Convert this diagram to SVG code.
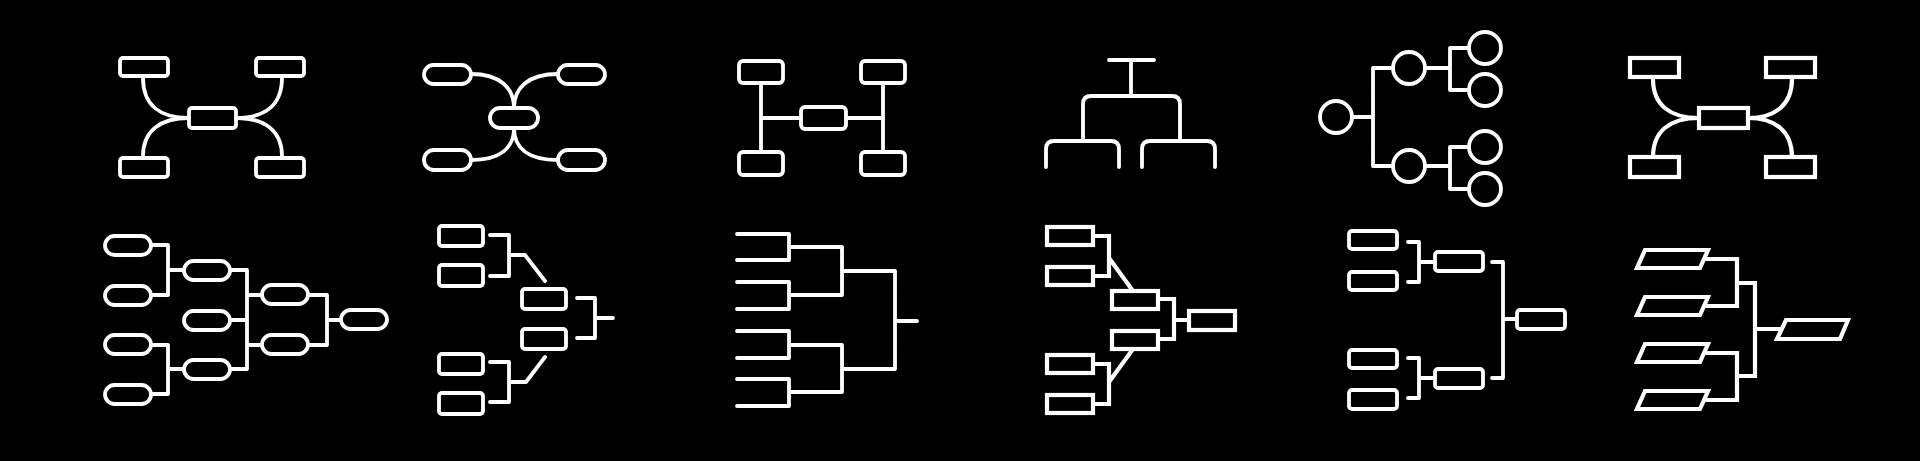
<svg xmlns="http://www.w3.org/2000/svg" width="1920" height="461" viewBox="0 0 1920 461">
<style>
.r{fill:none;stroke:#fff;stroke-width:3.8;stroke-linecap:round;stroke-linejoin:round}
.s{fill:none;stroke:#fff;stroke-width:4.2;stroke-linecap:butt;stroke-linejoin:miter}
</style>
<rect width="1920" height="461" fill="#000"/>
<g id="icon1-mindmap">
<g class="r"><rect x="120" y="58" width="48" height="18" rx="3"/><rect x="256" y="58" width="48" height="18" rx="3"/><rect x="189" y="108" width="47" height="20" rx="3"/><rect x="120" y="158" width="48" height="19" rx="3"/><rect x="256" y="158" width="48" height="19" rx="3"/></g>
</g>
<g id="icon2-pills">
<g class="r"><rect x="424" y="65" width="47" height="19" rx="9.5"/><rect x="558" y="65" width="47" height="19" rx="9.5"/><rect x="490" y="108" width="48" height="20" rx="10"/><rect x="424" y="150" width="47" height="20" rx="10"/><rect x="558" y="150" width="47" height="20" rx="10"/></g>
</g>
<g id="icon3-h">
<g class="r"><rect x="739" y="61" width="44" height="22" rx="4"/><rect x="861" y="61" width="44" height="22" rx="4"/><rect x="801" y="107" width="45" height="22" rx="4"/><rect x="739" y="152" width="44" height="23" rx="4"/><rect x="861" y="152" width="44" height="23" rx="4"/></g>
</g>
<g id="icon4-tree"></g>
<g id="icon5-circles">
<g class="r"><circle cx="1336" cy="117" r="16"/><circle cx="1409" cy="68" r="16"/><circle cx="1409" cy="166" r="16"/><circle cx="1485" cy="48" r="16"/><circle cx="1485" cy="90" r="16"/><circle cx="1485" cy="147" r="16"/><circle cx="1485" cy="189" r="16"/></g>
</g>
<g id="icon6-mindmap-sharp">
<g class="s"><rect x="1630" y="58" width="49" height="19"/><rect x="1766" y="58" width="49" height="19"/><rect x="1699" y="108" width="49" height="20"/><rect x="1630" y="157" width="49" height="20"/><rect x="1766" y="157" width="49" height="20"/></g>
</g>
<g id="icon7-pill-bracket">
<g class="r"><rect x="105" y="236" width="46" height="19" rx="9.5"/><rect x="105" y="286" width="46" height="19" rx="9.5"/><rect x="105" y="335" width="46" height="19" rx="9.5"/><rect x="105" y="385" width="46" height="19" rx="9.5"/><rect x="184" y="261" width="46" height="19" rx="9.5"/><rect x="184" y="311" width="46" height="19" rx="9.5"/><rect x="184" y="360" width="46" height="19" rx="9.5"/><rect x="262" y="285" width="46" height="19" rx="9.5"/><rect x="262" y="335" width="46" height="19" rx="9.5"/><rect x="341" y="310" width="46" height="19" rx="9.5"/></g>
</g>
<g id="icon8-bracket-diag">
<g class="r"><rect x="439" y="226" width="44" height="20" rx="3"/><rect x="439" y="265" width="44" height="21" rx="3"/><rect x="439" y="354" width="44" height="20" rx="3"/><rect x="439" y="393" width="44" height="21" rx="3"/><rect x="522" y="289" width="44" height="20" rx="3"/><rect x="522" y="329" width="44" height="20" rx="3"/></g>
</g>
<g id="icon9-bracket-lines"></g>
<g id="icon10-bracket-sharp">
<g class="s"><rect x="1047" y="227" width="46" height="18"/><rect x="1047" y="267" width="46" height="18"/><rect x="1047" y="355" width="46" height="18"/><rect x="1047" y="395" width="46" height="18"/><rect x="1112" y="291" width="46" height="18"/><rect x="1112" y="331" width="46" height="18"/><rect x="1189" y="311" width="46" height="19"/></g>
</g>
<g id="icon11-bracket-rounded">
<g class="r"><rect x="1349" y="231" width="48" height="18" rx="3"/><rect x="1349" y="272" width="48" height="18" rx="3"/><rect x="1349" y="350" width="48" height="18" rx="3"/><rect x="1349" y="390" width="48" height="19" rx="3"/><rect x="1435" y="252" width="48" height="19" rx="3"/><rect x="1435" y="369" width="48" height="19" rx="3"/><rect x="1517" y="310" width="48" height="19" rx="3"/></g>
</g>
<g id="icon12-parallelograms">
<g class="s"><polygon points="1645,250 1708,250 1700,268 1637,268"/><polygon points="1645,297 1708,297 1700,315 1637,315"/><polygon points="1645,344 1708,344 1700,362 1637,362"/><polygon points="1645,391 1708,391 1700,409 1637,409"/><polygon points="1786,320 1848,320 1840,339 1777,339"/></g>
</g>
<g id="connectors">
<g class="r">
<path d="M143,78 C143,105 160,118 189,118 M143,156 C143,131 160,118 189,118 M282,78 C282,105 265,118 236,118 M282,156 C282,131 265,118 236,118"/>
<path d="M471,74 C500,74 514,88 514,108 M558,74 C528,74 514,88 514,108 M514,128 C514,148 500,160 471,160 M514,128 C514,148 528,160 558,160"/>
<path d="M761,83 V152 M761,118 H801 M883,83 V152 M846,118 H883"/>
<path d="M1109,60 H1154 M1131,60 V96 M1083,140 V104 Q1083,96 1091,96 H1172 Q1180,96 1180,104 V140 M1046,167 V149 Q1046,141 1054,141 H1111 Q1119,141 1119,149 V167 M1142,167 V149 Q1142,141 1150,141 H1207 Q1215,141 1215,149 V167"/>
<path d="M1352,117 H1373 M1393,68 H1373 V166 H1393 M1425,68 H1450 M1469,48 H1450 V90 H1469 M1425,166 H1450 M1469,147 H1450 V189 H1469"/>
<path d="M153,245 H168 V295 H153 M168,270 H182 M153,345 H168 V394 H153 M168,369 H182 M232,270 H247 V369 H232 M232,320 H247 M247,295 H260 M247,345 H260 M310,295 H327 V345 H310 M327,320 H339"/>
<path d="M490,235 H509 V276 H490 M509,255 H525 L545,281 M490,362 H509 V402 H490 M509,382 H526 L545,357 M577,298 H595 V338 H577 M595,318 H613"/>
<path d="M737,234 H789 V260 H737 M737,282 H789 V309 H737 M737,331 H789 V358 H737 M737,379 H789 V406 H737 M789,247 H842 V295 H789 M789,345 H842 V392 H789 M842,271 H895 V369 H842 M895,321 H917"/>
<path d="M1408,242 H1419 V282 H1408 M1419,262 H1433 M1408,358 H1419 V398 H1408 M1419,378 H1433 M1492,262 H1503 V378 H1492 M1503,319 H1515"/>
</g>
<g class="s">
<path d="M1653,79 C1653,105 1670,118 1699,118 M1653,157 C1653,131 1670,118 1699,118 M1792,79 C1792,105 1775,118 1748,118 M1792,157 C1792,131 1775,118 1748,118"/>
<path d="M1093,236 H1109 V276 H1093 M1109,258 L1133,291 M1093,364 H1109 V404 H1093 M1109,382 L1133,349 M1158,299 H1174 V339 H1158 M1174,320 H1189"/>
<path d="M1704,259 H1737 V306 H1704 M1704,353 H1737 V400 H1704 M1737,283 H1755 V376 H1737 M1755,329 H1781"/>
</g>
</g>
</svg>
